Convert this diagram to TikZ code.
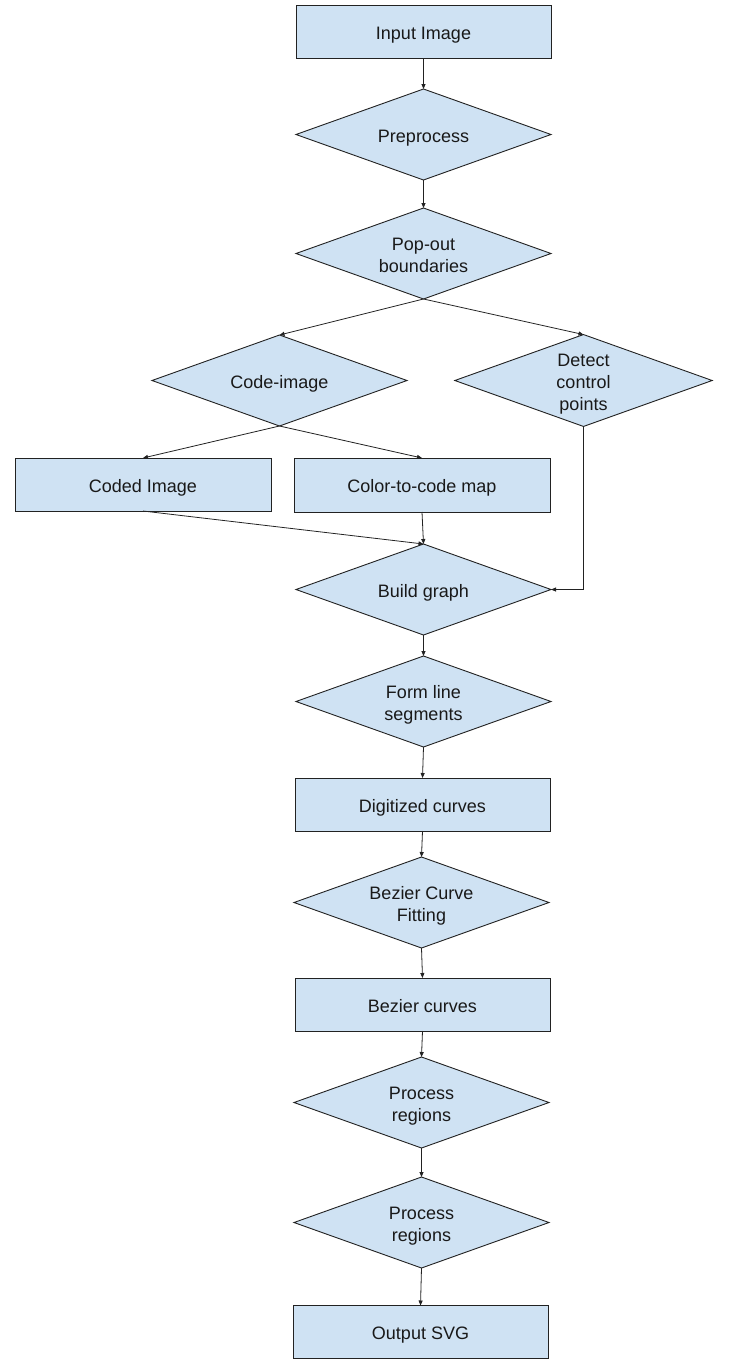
\documentclass[tikz,border=0pt]{standalone}
\usepackage{fontspec}
\setmainfont{Liberation Sans}
\usetikzlibrary{shapes.geometric,arrows.meta}
\definecolor{boxfill}{HTML}{CFE2F3}
\definecolor{edge}{HTML}{222222}
\newcommand\tstrut{\rule{0pt}{22pt}}
\begin{document}
\begin{tikzpicture}[x=1pt,y=-1pt,
  base/.style={draw=edge, fill=boxfill, line width=0.9pt, inner sep=0pt, outer sep=0pt,
    font=\fontsize{18}{22}\selectfont, align=center, text=black!90},
  procbox/.style={base, rectangle, minimum width=255pt, minimum height=53pt},
  decision/.style={base, diamond, aspect=2.8, minimum width=255pt, minimum height=91pt},
  conn/.style={draw=edge, line width=0.8pt, -{Triangle[length=5pt,width=4pt]}}]
\useasboundingbox (0,0) rectangle (751,1368);
\fill[white] (0,0) rectangle (751,1368);

\node[procbox]  (input)   at (423.5,31.5)  {\tstrut Input Image\strut};
\node[decision] (prep)    at (423.5,134.5) {\tstrut Preprocess\strut};
\node[decision] (popout)  at (423.5,253.5) {\tstrut Pop-out\\boundaries\strut};
\node[decision] (codeimg) at (279.5,380.5) {\tstrut Code-image\strut};
\node[decision] (detect)  at (583.5,380.5) {\tstrut Detect\\control\\points\strut};
\node[procbox, minimum width=256pt] (coded) at (143,484.5) {\tstrut Coded Image\strut};
\node[procbox, minimum width=256pt, minimum height=54pt] (cmap) at (422,485) {\tstrut Color-to-code map\strut};
\node[decision] (build)   at (423.5,589.5) {\tstrut Build graph\strut};
\node[decision] (form)    at (423.5,701.5) {\tstrut Form line\\segments\strut};
\node[procbox]  (digit)   at (422.5,804.5) {\tstrut Digitized curves\strut};
\node[decision] (fit)     at (421.5,902.5) {\tstrut Bezier Curve\\Fitting\strut};
\node[procbox]  (bez)     at (422.5,1004.5) {\tstrut Bezier curves\strut};
\node[decision] (proc1)   at (421.5,1102.5) {\tstrut Process\\regions\strut};
\node[decision] (proc2)   at (421.5,1222.5) {\tstrut Process\\regions\strut};
\node[procbox]  (out)     at (420.5,1332) {\tstrut Output SVG\strut};

\draw[conn] (input.south) -- (prep.north);
\draw[conn] (prep.south) -- (popout.north);
\draw[conn] (popout.south) -- (codeimg.north);
\draw[conn] (popout.south) -- (detect.north);
\draw[conn] (codeimg.south) -- (coded.north);
\draw[conn] (codeimg.south) -- (cmap.north);
\draw[conn] (coded.south) -- (build.north);
\draw[conn] (cmap.south) -- (build.north);
\draw[conn] (detect.south) |- (build.east);
\draw[conn] (build.south) -- (form.north);
\draw[conn] (form.south) -- (digit.north);
\draw[conn] (digit.south) -- (fit.north);
\draw[conn] (fit.south) -- (bez.north);
\draw[conn] (bez.south) -- (proc1.north);
\draw[conn] (proc1.south) -- (proc2.north);
\draw[conn] (proc2.south) -- (out.north);
\end{tikzpicture}
\end{document}
